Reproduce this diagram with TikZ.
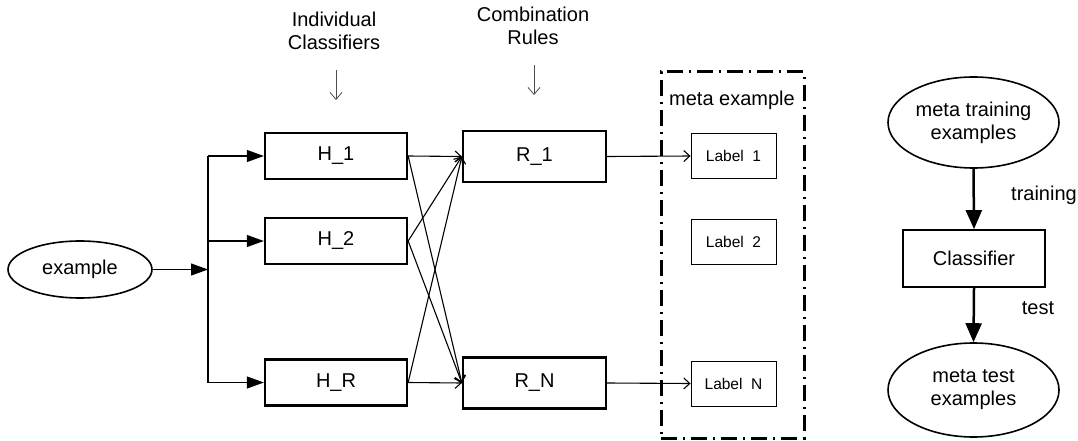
\documentclass[tikz,border=0pt]{standalone}
\usepackage{fontspec}
\setmainfont{Liberation Sans}
\usetikzlibrary{arrows.meta,shapes.geometric}
\begin{document}
\begin{tikzpicture}[x=1pt,y=-1pt,
  every node/.style={font=\fontsize{20}{23}\selectfont, inner sep=0pt},
  hbox/.style={draw, line width=2.3pt, minimum width=142pt, minimum height=46pt},
  rbox/.style={draw, line width=2.3pt, minimum width=143pt, minimum height=51pt},
  lbox/.style={draw, line width=0.9pt, minimum width=85pt, minimum height=45pt, font=\fontsize{15.5}{18}\selectfont},
  cbox/.style={draw, line width=1.8pt, minimum width=142pt, minimum height=57pt},
  oval/.style={draw, ellipse, line width=1.6pt},
  conn/.style={line width=1.1pt},
  bigtip/.style={conn, -{Triangle[length=17pt,width=12pt]}},
  barb/.style={conn, -{Straight Barb[length=6pt,width=11pt]}},
  thicktip/.style={line width=2.5pt, -{Triangle[length=19pt,width=16pt]}},
  pointer/.style={line width=0.8pt, draw=black!70, -{Straight Barb[length=7pt,width=12pt]}},
  frame/.style={draw, line width=3pt, dash pattern=on 16pt off 6pt on 2pt off 6pt},
  lab/.style={align=center},
]
\useasboundingbox (0,0) rectangle (1078,441);

% top captions
\node[lab] (ic) at (334,31) {Individual\\Classifiers};
\node[lab] (cr) at (533,26) {Combination\\Rules};
\coordinate (ica) at (336,70);
\coordinate (icb) at (336,100);
\coordinate (cra) at (534,65);
\coordinate (crb) at (534,95);
\draw[pointer] (ica) -- (icb);
\draw[pointer] (cra) -- (crb);

% example
\node[oval, minimum width=144pt, minimum height=57pt] (ex) at (80,269.5) {example};
\coordinate (j) at (208,269.5);

% H boxes
\node[hbox] (h1) at (336,156) {H\_1};
\node[hbox] (h2) at (336,241) {H\_2};
\node[hbox] (hR) at (336,382.5) {H\_R};

% R boxes
\node[rbox] (r1) at (534.5,156.5) {R\_1};
\node[rbox] (rN) at (534.5,383) {R\_N};

% meta example frame
\node[frame, minimum width=143pt, minimum height=366pt] (meta) at (732.5,255) {};
\node (mt) at (732,100) {meta example};
\node[lbox] (l1) at (733.5,156) {Label\ \ 1};
\node[lbox] (l2) at (733.5,241.5) {Label\ \ 2};
\node[lbox] (lN) at (733.5,383.5) {Label\ \ N};

% connectors left
\draw[bigtip] (ex.east) -- (j);
\draw[conn] (j|-h1.west) -- (j|-hR.west);
\draw[bigtip] (j|-h1.west) -- (h1.west);
\draw[bigtip] (j|-h2.west) -- (h2.west);
\draw[bigtip] (j|-hR.west) -- (hR.west);

% crossing connectors
\draw[barb] (h1.east) -- (r1.west);
\draw[barb] (h1.east) -- (rN.west);
\draw[barb] (h2.east) -- (r1.west);
\draw[barb] (h2.east) -- (rN.west);
\draw[barb] (hR.east) -- (r1.west);
\draw[barb] (hR.east) -- (rN.west);

% to labels
\draw[barb] (r1.east) -- (l1.west);
\draw[barb] (rN.east) -- (lN.west);

% right part
\node[oval, minimum width=171pt, minimum height=91pt, lab] (mtr) at (973.5,122.5) {meta training\\examples};
\node[cbox] (cl) at (974,258.5) {Classifier};
\node[oval, minimum width=171pt, minimum height=94pt, lab] (mte) at (973.5,390) {meta test\\examples};
\draw[thicktip] (mtr.south) -- (cl.north);
\draw[thicktip] (cl.south) -- (mte.north);
\node (tr) at (1044,195) {training};
\node (te) at (1038,308) {test};
\end{tikzpicture}
\end{document}
